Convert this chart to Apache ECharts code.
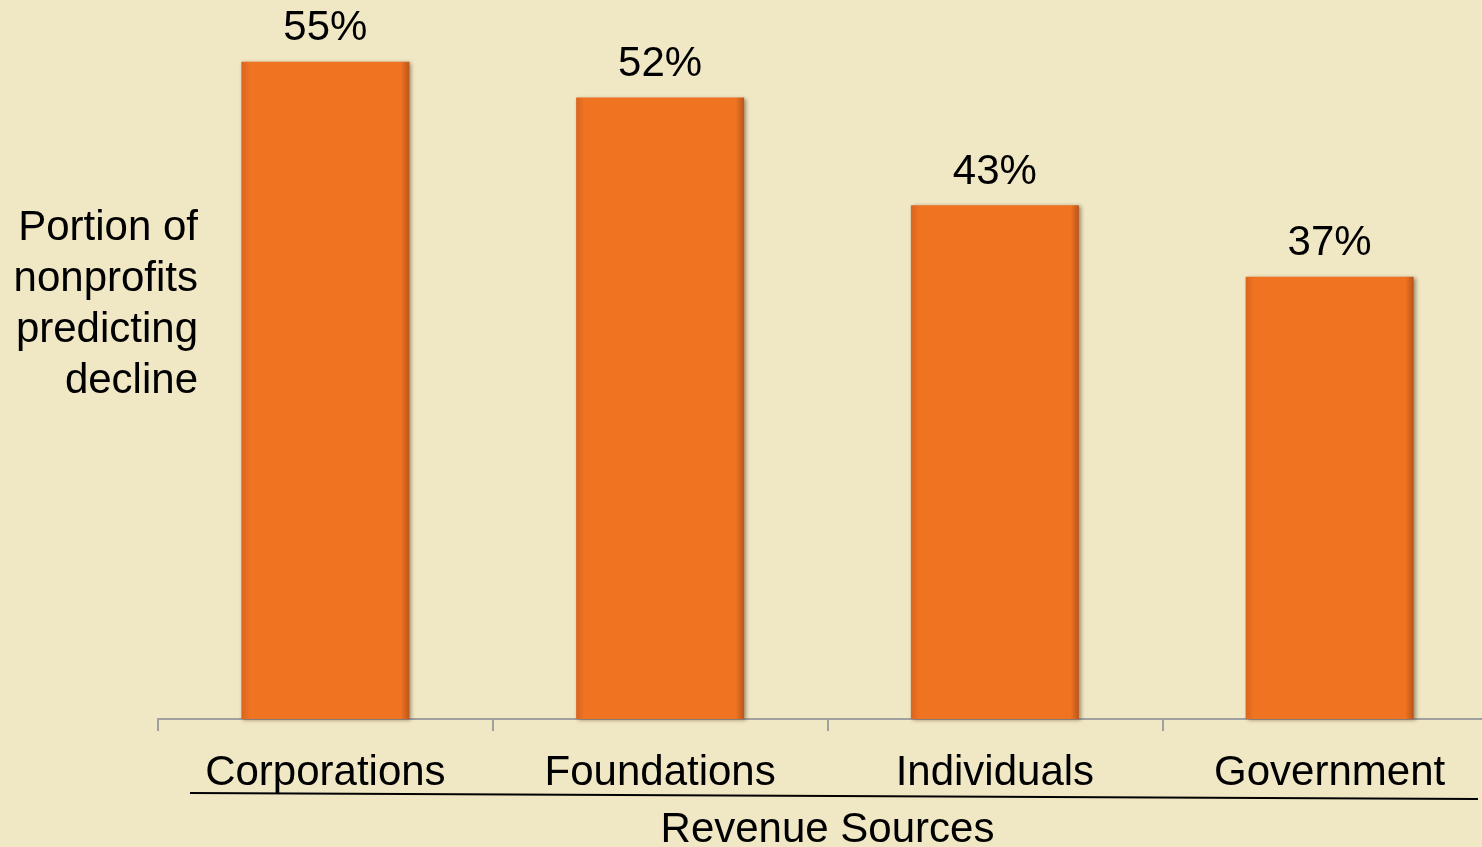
<!DOCTYPE html>
<html>
<head>
<meta charset="utf-8">
<script src="https://cdn.jsdelivr.net/npm/echarts@6/dist/echarts.min.js"></script>
<style>
  html, body { margin: 0; padding: 0; background: #f0e7c5; }
  #chart { width: 1482px; height: 847px; }
</style>
</head>
<body>
<div id="chart"></div>
<script>
const categories = ['Corporations', 'Foundations', 'Individuals', 'Government']
const declineShare = [55, 52, 43, 37]
const yTitle = 'Portion of\nnonprofits\npredicting\ndecline'

const font = 'Liberation Sans, Arial, sans-serif'
const chart = echarts.init(document.getElementById('chart'))

// bar face: darker edges left/right to fake the bevel
const barFill = new echarts.graphic.LinearGradient(0, 0, 1, 0, [
  { offset: 0, color: '#d8651f' },
  { offset: 0.05, color: '#f07322' },
  { offset: 0.95, color: '#f07322' },
  { offset: 1, color: '#b8561a' }
])

chart.setOption({
  backgroundColor: '#f0e7c5',
  animation: false,
  grid: { left: 158, right: -15, top: 2, bottom: 128, outerBoundsMode: 'none', containLabel: false },
  xAxis: {
    type: 'category',
    data: categories,
    name: 'Revenue Sources',
    nameLocation: 'middle',
    nameGap: 90,
    nameTextStyle: { fontSize: 42, color: '#000', fontFamily: font },
    axisLine: { lineStyle: { color: '#a0a0a0', width: 2 } },
    axisTick: { show: true, length: 12, lineStyle: { color: '#a0a0a0', width: 2 } },
    axisLabel: { fontSize: 42, color: '#000', fontFamily: font, margin: 33 }
  },
  yAxis: {
    type: 'value',
    min: 0,
    max: 60,
    axisLine: { show: false },
    axisTick: { show: false },
    axisLabel: { show: false },
    splitLine: { show: false }
  },
  series: [
    {
      type: 'bar',
      data: declineShare,
      barWidth: 168,
      itemStyle: {
        color: barFill,
        shadowColor: 'rgba(60, 30, 0, 0.45)',
        shadowBlur: 4,
        shadowOffsetX: 2,
        shadowOffsetY: 1
      },
      label: {
        show: true,
        position: 'top',
        distance: 12,
        formatter: '{c}%',
        fontSize: 42,
        color: '#000',
        fontFamily: font
      }
    }
  ],
  graphic: [
    {
      type: 'text',
      x: 198,
      y: 305,
      style: {
        text: yTitle,
        fontSize: 42,
        lineHeight: 51,
        fill: '#000',
        fontFamily: font,
        align: 'right',
        verticalAlign: 'middle'
      }
    },
    {
      type: 'line',
      shape: { x1: 190, y1: 793, x2: 1478, y2: 799 },
      style: { stroke: '#000', lineWidth: 2 }
    }
  ]
})
</script>
</body>
</html>
